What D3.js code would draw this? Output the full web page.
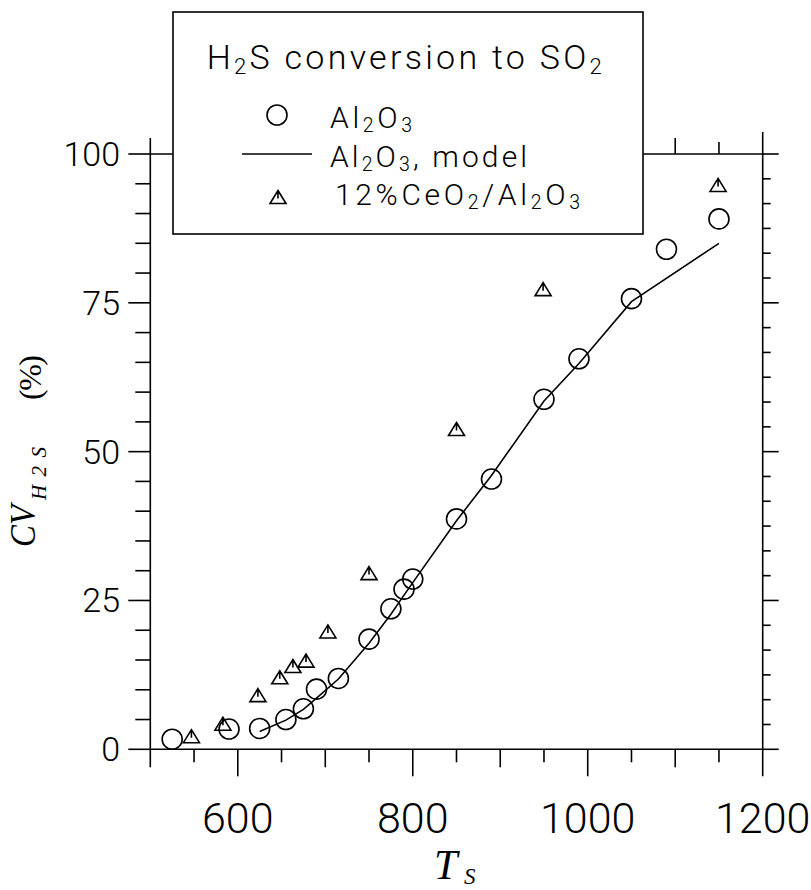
<!DOCTYPE html>
<html>
<head>
<meta charset="utf-8">
<script src="https://cdn.jsdelivr.net/npm/d3@7"></script>
<style>
  body { margin: 0; background: #fff; }
  svg { display: block; }
  .lbl { font-family: Roboto, Lato, sans-serif; font-weight: 300; fill: #000; }
  .ser { font-family: "Liberation Serif", "DejaVu Serif", serif; fill: #000; }
</style>
</head>
<body>
<div id="chart"></div>
<script>
// Al2O3 measured points
var tAl = [525, 590, 625, 655, 675, 690, 715, 750, 775, 790, 800, 850, 890, 950, 990, 1050, 1090, 1150];
var cvAl = [1.7, 3.4, 3.5, 5.0, 6.8, 10.1, 11.9, 18.5, 23.6, 26.9, 28.6, 38.7, 45.4, 58.8, 65.6, 75.7, 84.0, 89.1];

// Al2O3 model curve
var tModel = [625, 655, 675, 690, 715, 750, 775, 790, 800, 850, 890, 950, 990, 1050, 1150];
var cvModel = [3.0, 4.9, 6.7, 8.6, 11.8, 17.8, 22.7, 25.9, 28.0, 38.4, 46.0, 58.5, 64.8, 75.2, 85.0];

// 12%CeO2/Al2O3 points
var tCe = [547, 583, 623, 648, 663, 678, 703, 750, 850, 949, 1149];
var cvCe = [2.2, 4.3, 9.1, 12.1, 14.0, 14.9, 19.8, 29.6, 53.8, 77.3, 94.8];

var xTickLabels = [600, 800, 1000, 1200];
var yTickLabels = [0, 25, 50, 75, 100];

var width = 811, height = 890;

var svg = d3.select("#chart").append("svg")
    .attr("width", width)
    .attr("height", height);

var x = d3.scaleLinear().domain([500, 1200]).range([150.3, 762.7]);
var y = d3.scaleLinear().domain([0, 100]).range([749.3, 154]);

var sw = 1.6;

// frame lines
var frame = svg.append("g").attr("stroke", "#000").attr("stroke-width", sw).attr("fill", "none");
frame.append("line").attr("x1", x(500)).attr("x2", x(1200)).attr("y1", y(0)).attr("y2", y(0));
frame.append("line").attr("x1", x(500)).attr("x2", x(1200)).attr("y1", y(100)).attr("y2", y(100));
frame.append("line").attr("x1", x(500)).attr("x2", x(500)).attr("y1", y(0)).attr("y2", y(100));
frame.append("line").attr("x1", x(1200)).attr("x2", x(1200)).attr("y1", y(0)).attr("y2", y(100));

// x ticks, bottom (down) and top (up)
var xt = d3.range(500, 1201, 50);
function xLen(t, big, mid, small) {
  return t % 200 == 0 ? big : (t % 100 == 0 ? mid : small);
}
frame.selectAll(".xb").data(xt).enter().append("line")
    .attr("x1", function(d) { return x(d); })
    .attr("x2", function(d) { return x(d); })
    .attr("y1", y(0))
    .attr("y2", function(d) { return y(0) + xLen(d, 27, 18, 13); });
frame.selectAll(".xt").data(xt).enter().append("line")
    .attr("x1", function(d) { return x(d); })
    .attr("x2", function(d) { return x(d); })
    .attr("y1", y(100))
    .attr("y2", function(d) { return y(100) - xLen(d, 22, 16, 12); });

// y ticks, left every 5
var yt = d3.range(0, 100.01, 5);
frame.selectAll(".yl").data(yt).enter().append("line")
    .attr("y1", function(d) { return y(d); })
    .attr("y2", function(d) { return y(d); })
    .attr("x1", x(500))
    .attr("x2", function(d) { return x(500) - (d % 25 == 0 ? 22 : 15); });

// right ticks, six per 25 units
var yr = d3.range(0, 24.01).map(function(i) { return i * 25 / 6; });
frame.selectAll(".yr").data(yr).enter().append("line")
    .attr("y1", function(d) { return y(d); })
    .attr("y2", function(d) { return y(d); })
    .attr("x1", x(1200))
    .attr("x2", function(d, i) { return x(1200) + (i % 6 == 0 ? 16 : 8); });

// tick labels
svg.selectAll(".xlab").data(xTickLabels).enter().append("text")
    .attr("class", "lbl")
    .attr("x", function(d) { return x(d); })
    .attr("y", 832.5)
    .attr("text-anchor", "middle")
    .attr("font-size", 43)
    .text(function(d) { return d; });

svg.selectAll(".ylab").data(yTickLabels).enter().append("text")
    .attr("class", "lbl")
    .attr("x", 120)
    .attr("y", function(d) { return y(d) + 12; })
    .attr("text-anchor", "end")
    .attr("font-size", 34)
    .text(function(d) { return d; });

// model line
var line = d3.line()
    .x(function(d) { return x(d[0]); })
    .y(function(d) { return y(d[1]); });
svg.append("path")
    .datum(d3.zip(tModel, cvModel))
    .attr("d", line)
    .attr("fill", "none")
    .attr("stroke", "#000")
    .attr("stroke-width", sw);

// circles
svg.selectAll(".al").data(d3.zip(tAl, cvAl)).enter().append("circle")
    .attr("cx", function(d) { return x(d[0]); })
    .attr("cy", function(d) { return y(d[1]); })
    .attr("r", 10)
    .attr("fill", "none")
    .attr("stroke", "#000")
    .attr("stroke-width", sw);

// triangles with a centre mark
var tri = "M0,-6.5L8,6.5L-8,6.5Z M0,-6.5L0,1.5";
svg.selectAll(".ce").data(d3.zip(tCe, cvCe)).enter().append("path")
    .attr("transform", function(d) { return "translate(" + x(d[0]) + "," + y(d[1]) + ")"; })
    .attr("d", tri)
    .attr("fill", "none")
    .attr("stroke", "#000")
    .attr("stroke-width", sw);

// legend
var leg = svg.append("g");
leg.append("rect")
    .attr("x", 173).attr("y", 12)
    .attr("width", 470).attr("height", 222)
    .attr("fill", "#fff")
    .attr("stroke", "#000")
    .attr("stroke-width", sw);

function chem(g, xp, yp, size, parts, len) {
  var t = g.append("text").attr("class", "lbl")
      .attr("x", xp).attr("y", yp)
      .attr("font-size", size)
      .attr("textLength", len)
      .attr("lengthAdjust", "spacing");
  parts.forEach(function(p) {
    var s = t.append("tspan").text(p[0]);
    if (p[1]) s.attr("font-size", size * 0.65).attr("baseline-shift", "-22%");
  });
  return t;
}

chem(leg, 206.7, 69, 34, [["H"], ["2", 1], ["S conversion to SO"], ["2", 1]], 395);
chem(leg, 330, 128, 30, [["Al"], ["2", 1], ["O"], ["3", 1]], 82);
chem(leg, 330, 166.7, 30, [["Al"], ["2", 1], ["O"], ["3", 1], [", model"]], 197);
chem(leg, 335, 205, 30, [["12%CeO"], ["2", 1], ["/Al"], ["2", 1], ["O"], ["3", 1]], 245);

leg.append("circle").attr("cx", 277).attr("cy", 115).attr("r", 10)
    .attr("fill", "none").attr("stroke", "#000").attr("stroke-width", sw);
leg.append("line").attr("x1", 242).attr("x2", 312).attr("y1", 154).attr("y2", 154)
    .attr("stroke", "#000").attr("stroke-width", sw);
leg.append("path").attr("transform", "translate(278,197)").attr("d", tri)
    .attr("fill", "none").attr("stroke", "#000").attr("stroke-width", sw);

// axis titles
svg.append("text").attr("class", "ser").attr("font-style", "italic")
    .attr("x", 434).attr("y", 879).attr("font-size", 42).text("T");
svg.append("text").attr("class", "ser").attr("font-style", "italic")
    .attr("x", 464).attr("y", 884).attr("font-size", 23).text("S");

var yg = svg.append("g").attr("transform", "translate(35,547) rotate(-90)");
yg.append("text").attr("class", "ser").attr("font-style", "italic")
    .attr("x", 0).attr("y", 0).attr("font-size", 36)
    .attr("textLength", 42).attr("lengthAdjust", "spacingAndGlyphs").text("CV");
yg.append("text").attr("class", "ser").attr("font-style", "italic")
    .attr("x", 47).attr("y", 11).attr("font-size", 21)
    .attr("textLength", 53).attr("lengthAdjust", "spacing").text("H2S");
yg.append("text").attr("class", "ser")
    .attr("x", 147).attr("y", 6).attr("font-size", 32)
    .attr("textLength", 45).attr("lengthAdjust", "spacing").text("(%)");
</script>
</body>
</html>
